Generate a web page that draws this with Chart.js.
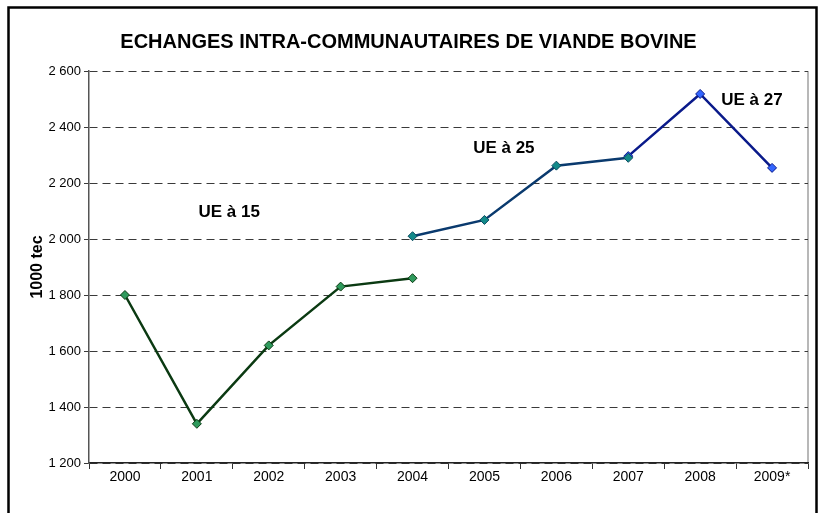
<!DOCTYPE html>
<html>
<head>
<meta charset="utf-8">
<script src="https://cdn.jsdelivr.net/npm/chart.js@4"></script>
<style>
  html, body { margin: 0; padding: 0; background: #fff; }
  #wrap { width: 823px; height: 513px; }
</style>
</head>
<body>
<div id="wrap"><canvas id="chart" width="823" height="513"></canvas></div>
<script>
// donnees (1000 tec)
const years = ['2000', '2001', '2002', '2003', '2004', '2005', '2006', '2007', '2008', '2009*'];
const ue15 = [1800, 1340, 1620, 1830, 1860, null, null, null, null, null];
const ue25 = [null, null, null, null, 2010, 2068, 2262, 2290, null, null];
const ue27 = [null, null, null, null, null, null, null, 2296, 2518, 2254];
const seriesNames = ['UE à 15', 'UE à 25', 'UE à 27'];
const yTicks = [1200, 1400, 1600, 1800, 2000, 2200, 2400, 2600];

const FONT = 'Arial, "Liberation Sans", sans-serif';

// etiquettes de texte posees sur le graphique (index de categorie, valeur)
const notes = [
    { text: seriesNames[0], x: 1.45, y: 2097 },
    { text: seriesNames[1], x: 5.27, y: 2325 },
    { text: seriesNames[2], x: 8.72, y: 2497 }
];

const notesPlugin = {
    id: 'notes',
    beforeDraw(chart) {
        const ctx = chart.ctx;
        const a = chart.chartArea;
        ctx.save();
        // cadre exterieur
        ctx.strokeStyle = '#000';
        ctx.lineWidth = 2.5;
        ctx.strokeRect(8.5, 7.5, 808, 530);
        // bord droit de la zone de tracé
        ctx.strokeStyle = '#a0a0a0';
        ctx.lineWidth = 1.5;
        ctx.beginPath();
        ctx.moveTo(a.right, a.top);
        ctx.lineTo(a.right, a.bottom);
        ctx.stroke();
        ctx.restore();
    },
    afterDatasetsDraw(chart) {
        const ctx = chart.ctx;
        const xs = chart.scales.x;
        const ys = chart.scales.y;
        ctx.save();
        ctx.font = 'bold 17px ' + FONT;
        ctx.fillStyle = '#000';
        ctx.textAlign = 'center';
        ctx.textBaseline = 'middle';
        notes.forEach(n => {
            ctx.fillText(n.text, xs.getPixelForValue(n.x), ys.getPixelForValue(n.y));
        });
        ctx.restore();
    }
};

function lineSet(label, data, lineColor, fill, edge) {
    return {
        label: label,
        data: data,
        borderColor: lineColor,
        borderWidth: 2.5,
        pointStyle: 'rectRot',
        pointRadius: 4.5,
        pointBackgroundColor: fill,
        pointBorderColor: edge,
        pointBorderWidth: 1,
        tension: 0,
        spanGaps: false
    };
}

new Chart(document.getElementById('chart'), {
    type: 'line',
    data: {
        labels: years,
        datasets: [
            lineSet(seriesNames[0], ue15, '#0b3a12', '#2e9a5c', '#0b3a12'),
            lineSet(seriesNames[1], ue25, '#0a3a6e', '#138a8a', '#0a4a5e'),
            lineSet(seriesNames[2], ue27, '#0a1a8a', '#3366ff', '#0a1a8a')
        ]
    },
    options: {
        responsive: false,
        animation: false,
        layout: { padding: { left: 9, right: 15, top: 20, bottom: 0 } },
        plugins: {
            legend: { display: false },
            tooltip: { enabled: false },
            title: {
                display: true,
                text: 'ECHANGES INTRA-COMMUNAUTAIRES DE VIANDE BOVINE',
                color: '#000',
                font: { family: FONT, size: 20, weight: 'bold' },
                padding: { top: 10, bottom: 17 }
            }
        },
        scales: {
            x: {
                offset: true,
                grid: { offset: true, drawOnChartArea: false, tickLength: 6, color: '#333' },
                border: { color: '#222', width: 1.5 },
                ticks: { color: '#000', font: { family: FONT, size: 14 }, padding: 0, maxRotation: 0 },
                afterFit(scale) { scale.height = 50; }
            },
            y: {
                min: 1200,
                max: 2600,
                afterBuildTicks(scale) { scale.ticks = yTicks.map(v => ({ value: v })); },
                grid: { color: '#3a3a3a', lineWidth: 1, tickLength: 5 },
                border: { color: '#555', width: 1.5, dash: [8, 5] },
                ticks: {
                    color: '#000',
                    font: { family: FONT, size: 13 },
                    padding: 3,
                    callback: v => v.toLocaleString('fr-FR').replace(/\s/g, ' ')
                },
                title: {
                    display: true,
                    text: '1000 tec',
                    color: '#000',
                    font: { family: FONT, size: 16, weight: 'bold' },
                    padding: { top: 19, bottom: 0 }
                },
                afterFit(scale) { scale.width = 80; }
            }
        }
    },
    plugins: [notesPlugin]
});
</script>
</body>
</html>
